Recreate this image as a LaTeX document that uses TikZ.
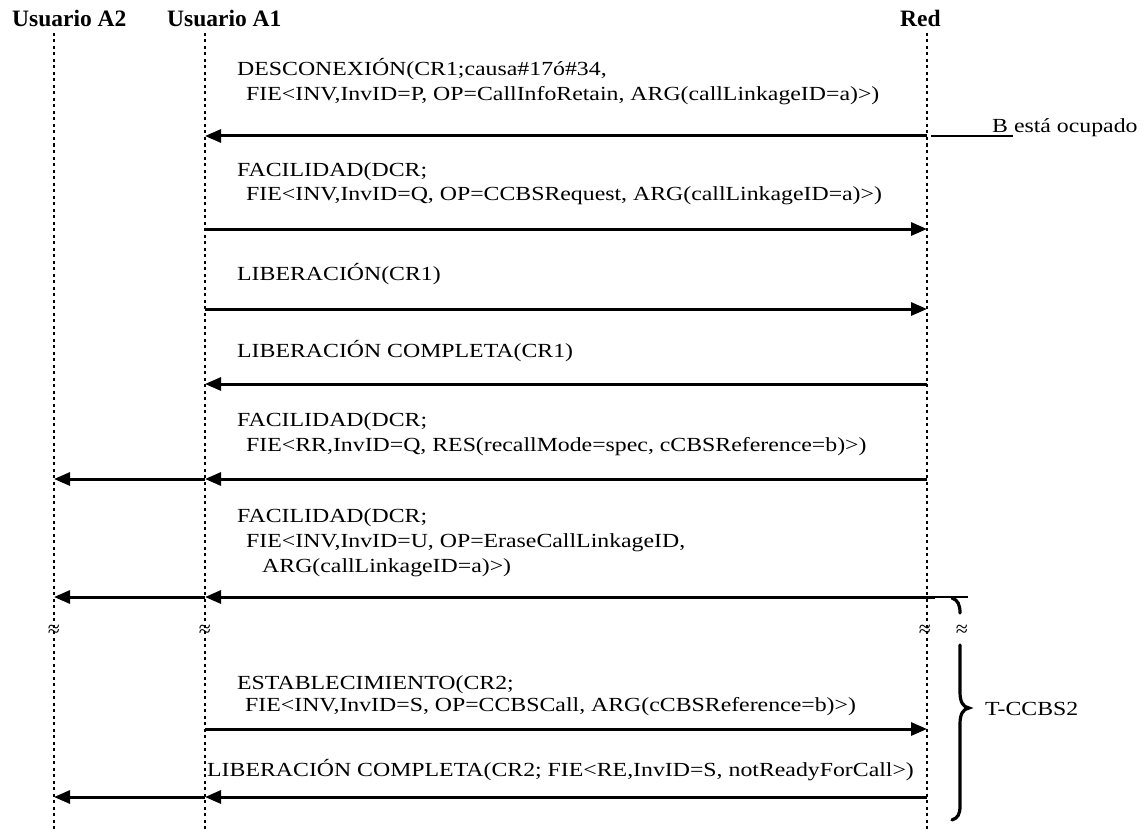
\documentclass[tikz,border=0pt]{standalone}
\usepackage{fontspec}
\setmainfont{Liberation Serif}[FakeStretch=1.19]
\newfontfamily\hdrfont{Liberation Serif}
\usetikzlibrary{arrows.meta}
\tikzset{
  hdr/.style={font=\hdrfont\bfseries\fontsize{23.5}{26}\selectfont, anchor=base west, inner sep=0pt},
  lbl/.style={font=\fontsize{20}{24}\selectfont, anchor=base west, inner sep=0pt},
  lifeline/.style={line width=2.2pt, dash pattern=on 3pt off 3.5pt},
  msg/.style={line width=3pt, -{Triangle[length=16pt,width=13pt]}},
  thinline/.style={line width=1.2pt},
  brc/.style={line width=3.2pt, line cap=round},
  approx/.style={font=\hdrfont\fontsize{22}{22}\selectfont, inner sep=0pt}
}
\begin{document}
\begin{tikzpicture}[x=1pt,y=-1pt]
\useasboundingbox (0,0) rectangle (1148,832);
% headers
\node[hdr] (hA2) at (12,27) {Usuario A2};
\node[hdr] (hA1) at (167,27) {Usuario A1};
\node[hdr] (hR) at (900,27) {Red};
% lifelines
\coordinate (A2t) at (54,33);  \coordinate (A2b) at (54,832);
\coordinate (A1t) at (205,33); \coordinate (A1b) at (205,832);
\coordinate (Rt) at (927,33);  \coordinate (Rb) at (927,832);
\draw[lifeline] (A2t) -- (A2b);
\draw[lifeline] (A1t) -- (A1b);
\draw[lifeline] (Rt) -- (Rb);
% message 1
\node[lbl] (t1a) at (237,76) {DESCONEXIÓN(CR1;causa\#17ó\#34,};
\node[lbl] (t1b) at (246,101) {FIE<INV,InvID=P, OP=CallInfoRetain, ARG(callLinkageID=a)>)};
\coordinate (r1) at (927,136); \coordinate (a1) at (205,136);
\draw[msg] (r1) -- (a1);
\coordinate (b1) at (931,136); \coordinate (b2) at (1013,136);
\draw[thinline] (b1) -- (b2);
\node[lbl] (busy) at (992,132) {B está ocupado};
% message 2
\node[lbl] (t2a) at (237,176) {FACILIDAD(DCR;};
\node[lbl] (t2b) at (246,200) {FIE<INV,InvID=Q, OP=CCBSRequest, ARG(callLinkageID=a)>)};
\coordinate (a2) at (205,229); \coordinate (r2) at (927,229);
\draw[msg] (a2) -- (r2);
% message 3
\node[lbl] (t3) at (237,280) {LIBERACIÓN(CR1)};
\coordinate (a3) at (205,309); \coordinate (r3) at (927,309);
\draw[msg] (a3) -- (r3);
% message 4
\node[lbl] (t4) at (237,357) {LIBERACIÓN COMPLETA(CR1)};
\coordinate (r4) at (927,384); \coordinate (a4) at (205,384);
\draw[msg] (r4) -- (a4);
% message 5
\node[lbl] (t5a) at (237,426) {FACILIDAD(DCR;};
\node[lbl] (t5b) at (246,451) {FIE<RR,InvID=Q, RES(recallMode=spec, cCBSReference=b)>)};
\coordinate (r5) at (927,479); \coordinate (a5) at (205,479); \coordinate (u5) at (54,479);
\draw[msg] (r5) -- (a5);
\draw[msg] (a5) -- (u5);
% message 6
\node[lbl] (t6a) at (237,522) {FACILIDAD(DCR;};
\node[lbl] (t6b) at (246,547) {FIE<INV,InvID=U, OP=EraseCallLinkageID,};
\node[lbl] (t6c) at (262,572) {ARG(callLinkageID=a)>)};
\coordinate (r6) at (935,597); \coordinate (a6) at (205,597); \coordinate (u6) at (54,597);
\draw[msg] (r6) -- (a6);
\draw[msg] (a6) -- (u6);
\coordinate (k1) at (927,597); \coordinate (k2) at (968,597);
\draw[thinline] (k1) -- (k2);
% time gap marks
\node[approx] (g1) at (54,631) {≈};
\node[approx] (g2) at (205,631) {≈};
\node[approx] (g3) at (925,631) {≈};
\node[approx] (g4) at (962,631) {≈};
% brace
\draw[brc] (952,598) .. controls (958,600) and (960,605) .. (960,613);
\draw[brc] (960,645) -- (960,692) .. controls (960,702) and (963,707) .. (969,708)
  .. controls (963,709) and (960,714) .. (960,724) -- (960,806)
  .. controls (960,814) and (958,818) .. (952,820);
\node[lbl] (tccbs) at (985,715) {T-CCBS2};
% message 7
\node[lbl] (t7a) at (237,689) {ESTABLECIMIENTO(CR2;};
\node[lbl] (t7b) at (245,711) {FIE<INV,InvID=S, OP=CCBSCall, ARG(cCBSReference=b)>)};
\coordinate (a7) at (205,729); \coordinate (r7) at (927,729);
\draw[msg] (a7) -- (r7);
% message 8
\node[lbl] (t8) at (207,776) {LIBERACIÓN COMPLETA(CR2; FIE<RE,InvID=S, notReadyForCall>)};
\coordinate (r8) at (927,797); \coordinate (a8) at (205,797); \coordinate (u8) at (54,797);
\draw[msg] (r8) -- (a8);
\draw[msg] (a8) -- (u8);
\end{tikzpicture}
\end{document}
